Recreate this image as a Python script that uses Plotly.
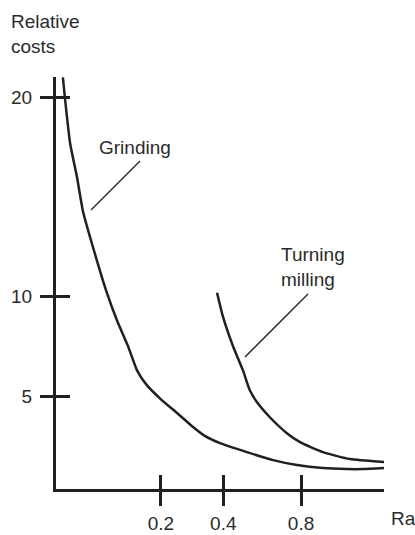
import plotly.graph_objects as go

# ---- data (schematic: x is position along the Ra axis, 0-100) ----
grinding_x = [2.1, 2.7, 4.3, 6.4, 8.2, 12.5, 15.5, 18.6, 22.0, 24.7, 27.5, 32.0,
              37.0, 41.5, 45.5, 50.0, 58.2, 66.2, 73.5, 81.4, 88.7, 93.6, 100]
grinding_y = [21.0, 20.0, 17.7, 16.0, 14.3, 11.8, 10.2, 8.8, 7.5, 6.3, 5.6, 4.85,
              4.15, 3.5, 3.0, 2.65, 2.2, 1.8, 1.55, 1.4, 1.35, 1.35, 1.4]

turning_x = [49.1, 50.9, 54.0, 57.0, 59.1, 61.3, 65.2, 70.4, 74.4, 81.4, 89.6, 100]
turning_y = [10.2, 9.0, 7.5, 6.3, 5.3, 4.7, 3.95, 3.15, 2.7, 2.2, 1.85, 1.7]

x_tick_pos = [32.0, 51.0, 74.7]
x_tick_labels = ["0.2", "0.4", "0.8"]
y_tick_vals = [5, 10, 20]
y_tick_labels = ["5", "10", "20"]

INK = "#231f20"
TXT = "#2b2b2b"
FONT = "Liberation Sans, Arial, sans-serif"
FS = 19

W, H = 415, 535
L, R, T, B = 56, 31, 77, 46
PW, PH = W - L - R, H - T - B


def px(xp):
    return (xp - L) / PW


def py(yp):
    return (H - B - yp) / PH


fig = go.Figure()
fig.add_trace(go.Scatter(x=grinding_x, y=grinding_y, mode="lines",
                         line=dict(color=INK, width=2.5, shape="spline", smoothing=0.5),
                         hoverinfo="skip", showlegend=False))
fig.add_trace(go.Scatter(x=turning_x, y=turning_y, mode="lines",
                         line=dict(color=INK, width=2.5, shape="spline", smoothing=0.5),
                         hoverinfo="skip", showlegend=False))
# invisible trace to hold the inner tick axes
fig.add_trace(go.Scatter(x=[None], y=[None], xaxis="x2", yaxis="y2",
                         hoverinfo="skip", showlegend=False))

xr = [0, 100]
yr = [0.35, 21.02]

common = dict(showgrid=False, zeroline=False, tickcolor=INK, tickwidth=2.5,
              automargin=False)

fig.update_layout(
    template="none",
    width=W, height=H,
    margin=dict(l=L, r=R, t=T, b=B, autoexpand=False),
    paper_bgcolor="white", plot_bgcolor="white",
    font=dict(family=FONT, size=FS, color=TXT),
    xaxis=dict(range=xr, showline=True, linewidth=3, linecolor=INK,
               ticks="outside", ticklen=14, tickvals=x_tick_pos, ticktext=x_tick_labels,
               tickfont=dict(size=FS, color=TXT), ticklabelstandoff=1, **common),
    yaxis=dict(range=yr, showline=True, linewidth=3, linecolor=INK,
               ticks="outside", ticklen=13, tickvals=y_tick_vals, ticktext=y_tick_labels,
               tickfont=dict(size=FS, color=TXT), ticklabelstandoff=4, **common),
    xaxis2=dict(range=xr, overlaying="x", anchor="y2", side="bottom",
                ticks="inside", ticklen=14, tickvals=x_tick_pos,
                showticklabels=False, showline=False, **common),
    yaxis2=dict(range=yr, overlaying="y", anchor="x2", side="left",
                ticks="inside", ticklen=14, tickvals=y_tick_vals,
                showticklabels=False, showline=False, **common),
    showlegend=False,
)

ann = dict(xref="paper", yref="paper", showarrow=False, xanchor="left",
           font=dict(family=FONT, size=FS, color=TXT), align="left")
fig.add_annotation(x=px(9), y=py(9), yanchor="top", text="Relative<br>costs", **ann)
fig.add_annotation(x=px(97), y=py(147), yanchor="middle", text="Grinding", **ann)
fig.add_annotation(x=px(279), y=py(267), yanchor="middle", text="Turning<br>milling", **ann)
fig.add_annotation(x=px(389), y=py(518), yanchor="middle", text="Ra", **ann)

for (x0, y0, x1, y1) in [(140, 161, 91, 210), (308, 294, 245, 357)]:
    fig.add_shape(type="line", xref="paper", yref="paper",
                  x0=px(x0), y0=py(y0), x1=px(x1), y1=py(y1),
                  line=dict(color=INK, width=1.3))

post = ("document.documentElement.style.margin='0';"
        "document.documentElement.style.overflow='hidden';"
        "document.body.style.margin='0';"
        "document.body.style.overflow='hidden';"
        "var d=document.getElementById('{plot_id}');"
        "d.style.position='fixed';d.style.left='0px';d.style.top='0px';")

fig.write_html("out.html", config={"displayModeBar": False}, post_script=post)
